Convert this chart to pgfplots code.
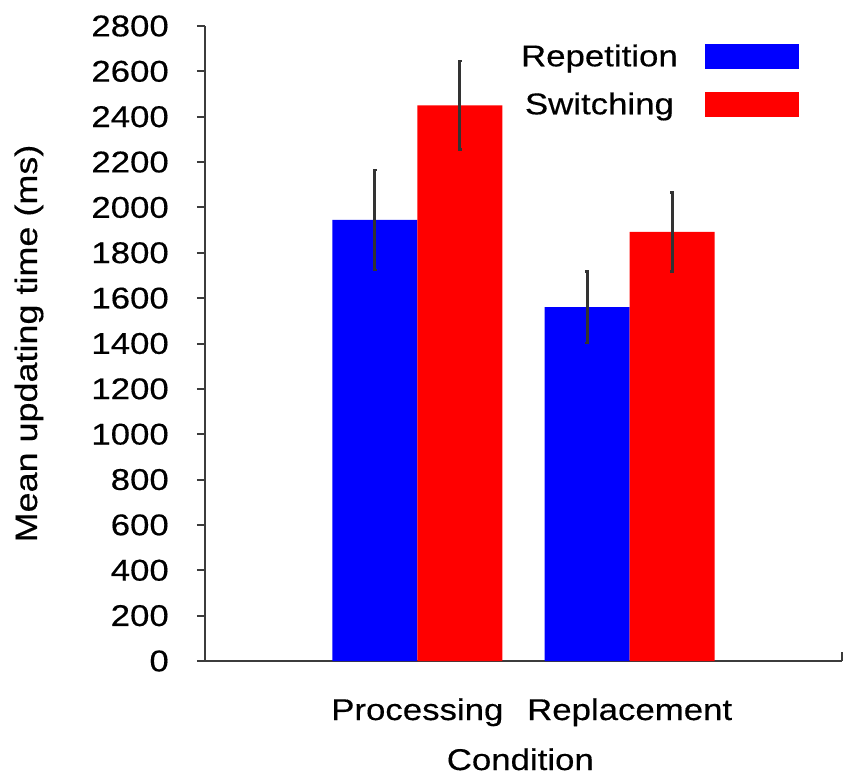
\documentclass[border=0pt]{standalone}
\usepackage{fontspec}
\setmainfont{Liberation Sans}[FakeStretch=1.16, FakeBold=0.4]
\usepackage{pgfplots}
\pgfplotsset{compat=1.18}
\definecolor{axgray}{RGB}{60,60,60}
\newcommand{\chartfont}{\fontsize{30}{36}\selectfont}
\begin{document}
\begin{tikzpicture}[x=1pt,y=1pt]
\path[use as bounding box] (-205,-121) rectangle (645,661);
\begin{axis}[
  at={(0,0)}, anchor=south west,
  scale only axis, width=637pt, height=635pt,
  xmin=0, xmax=3, ymin=0, ymax=2800,
  axis x line*=bottom, axis y line*=left,
  axis line style={axgray, line width=2pt},
  ytick={0,200,...,2800},
  scaled y ticks=false,
  /pgf/number format/assume math mode=true,
  /pgf/number format/1000 sep={},
  xtick={1,2}, xticklabels={Processing,Replacement},
  tick style={draw=axgray, line width=2pt},
  tick align=outside, major tick length=8pt,
  xtick style={/pgfplots/major tick length=0pt},
  extra x ticks={3}, extra x tick labels={},
  extra x tick style={tick align=inside, xtick style={/pgfplots/major tick length=9pt}},
  tick label style={font=\chartfont},
  yticklabel style={anchor=east, inner sep=0pt, xshift=-28pt},
  xticklabel style={anchor=base, inner sep=0pt, yshift=-51pt},
  xlabel={Condition},
  ylabel={Mean updating time (ms)},
  label style={font=\chartfont},
  xlabel style={at={(axis description cs:0.495,0)}, anchor=base, inner sep=0pt, yshift=-109pt},
  ylabel style={at={(axis description cs:0,0.5)}, anchor=base, inner sep=0pt, yshift=168pt,
    font=\fontsize{31}{37}\selectfont},
  ybar=0pt, bar width=0.4,
  legend plot pos=right,
  legend cell align=center,
  legend image code/.code={\fill[#1,/tikz/.cd,draw=none] (0pt,-13pt) rectangle (94pt,12pt);},
  legend style={draw=none, fill=none, inner sep=0pt, at={(0.9325,0.9717)}, anchor=north east,
    row sep=23pt, column sep=27pt, nodes={inner sep=0pt}, font=\chartfont},
]
\addplot[fill=blue, draw=none, bar shift=0pt,
  error bars/.cd, y dir=both, y explicit,
  error bar style={line width=3pt, black!80},
  error mark options={rotate=90, mark size=1.8pt, line width=2.5pt, black!80}]
  table[x=x, y=y, y error=e] {
x y e
0.8 1945 220
1.8 1560 157
};
\addlegendentry{Repetition}
\addplot[fill=red, draw=none, bar shift=0pt,
  error bars/.cd, y dir=both, y explicit,
  error bar style={line width=3pt, black!80},
  error mark options={rotate=90, mark size=1.8pt, line width=2.5pt, black!80}]
  table[x=x, y=y, y error=e] {
x y e
1.2 2450 195
2.2 1892 174
};
\addlegendentry{Switching}
\end{axis}
\end{tikzpicture}
\end{document}
